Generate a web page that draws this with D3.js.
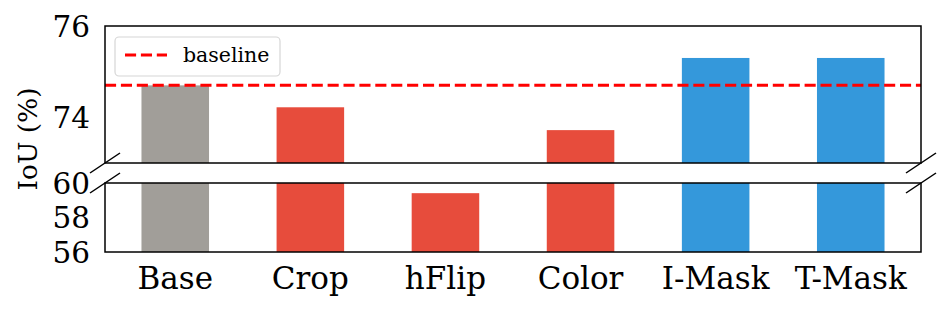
<!DOCTYPE html>
<html>
<head>
<meta charset="utf-8">
<script src="https://cdn.jsdelivr.net/npm/d3@7/dist/d3.min.js"></script>
<style>
  body { margin: 0; background: #fff; }
  svg { display: block; font-family: "DejaVu Serif", serif; }
</style>
</head>
<body>
<svg width="951" height="311"></svg>
<script>
var categories = ["Base", "Crop", "hFlip", "Color", "I-Mask", "T-Mask"];
var values = [74.70, 74.22, 59.41, 73.72, 75.30, 75.30];
var colors = ["#a19e99", "#e74c3c", "#e74c3c", "#e74c3c", "#3498db", "#3498db"];
var baseline = 74.70;
var topTicks = [74, 76];
var bottomTicks = [56, 58, 60];

var svg = d3.select("svg");

var left = 105, right = 921;
var topPanel = { y0: 26, y1: 163, domain: [73, 76], ticks: topTicks },
    botPanel = { y0: 183, y1: 252, domain: [56, 60], ticks: bottomTicks };

var x = d3.scaleBand()
    .domain(categories)
    .range([left, right])
    .paddingInner(0.5)
    .paddingOuter(0.27);

[topPanel, botPanel].forEach(function(p, i) {
    p.y = d3.scaleLinear().domain(p.domain).range([p.y1, p.y0]);

    svg.append("clipPath")
        .attr("id", "clip" + i)
        .append("rect")
        .attr("x", left).attr("y", p.y0)
        .attr("width", right - left).attr("height", p.y1 - p.y0);

    var g = svg.append("g").attr("clip-path", `url(#clip${i})`);

    g.selectAll("rect")
        .data(values)
        .enter().append("rect")
            .attr("x", (d, j) => x(categories[j]))
            .attr("width", x.bandwidth())
            .attr("y", d => p.y(Math.min(d, p.domain[1])))
            .attr("height", d => Math.max(0, p.y1 - p.y(Math.min(d, p.domain[1]))))
            .attr("fill", (d, j) => colors[j]);

    if (i === 0) {
        g.append("line")
            .attr("x1", left).attr("x2", right)
            .attr("y1", p.y(baseline)).attr("y2", p.y(baseline))
            .attr("stroke", "#ff0000")
            .attr("stroke-width", 3)
            .attr("stroke-dasharray", "11.1 4.8");
    }

    svg.append("rect")
        .attr("x", left).attr("y", p.y0)
        .attr("width", right - left).attr("height", p.y1 - p.y0)
        .attr("fill", "none")
        .attr("stroke", "#000")
        .attr("stroke-width", 1.5);

    svg.append("g")
        .selectAll("text")
        .data(p.ticks)
        .enter().append("text")
            .attr("x", left - 15)
            .attr("y", d => p.y(d))
            .attr("dy", "0.36em")
            .attr("text-anchor", "end")
            .attr("font-size", 29.5)
            .text(d => d);
});

// break marks
[left, right].forEach(function(ax) {
    [topPanel.y1, botPanel.y0].forEach(function(yy) {
        svg.append("line")
            .attr("x1", ax - 15).attr("y1", yy + 10)
            .attr("x2", ax + 15).attr("y2", yy - 10)
            .attr("stroke", "#000")
            .attr("stroke-width", 1.5);
    });
});

// x labels
svg.append("g")
    .selectAll("text")
    .data(categories)
    .enter().append("text")
        .attr("x", d => x(d) + x.bandwidth() / 2)
        .attr("y", 289)
        .attr("text-anchor", "middle")
        .attr("font-size", 31)
        .text(d => d);

// y label
svg.append("text")
    .attr("transform", `translate(37, ${(topPanel.y0 + botPanel.y1) / 2}) rotate(-90)`)
    .attr("text-anchor", "middle")
    .attr("font-size", 26.5)
    .text("IoU (%)");

// legend
var legend = svg.append("g");
legend.append("rect")
    .attr("x", 115).attr("y", 37)
    .attr("width", 165).attr("height", 39)
    .attr("rx", 4)
    .attr("fill", "#fff").attr("fill-opacity", 0.8)
    .attr("stroke", "#d6d6d6").attr("stroke-width", 1.2);
legend.append("line")
    .attr("x1", 125).attr("x2", 167)
    .attr("y1", 55).attr("y2", 55)
    .attr("stroke", "#ff0000")
    .attr("stroke-width", 3)
    .attr("stroke-dasharray", "11.1 4.8");
legend.append("text")
    .attr("x", 183).attr("y", 55)
    .attr("dy", "0.36em")
    .attr("font-size", 20.5)
    .text("baseline");
</script>
</body>
</html>
